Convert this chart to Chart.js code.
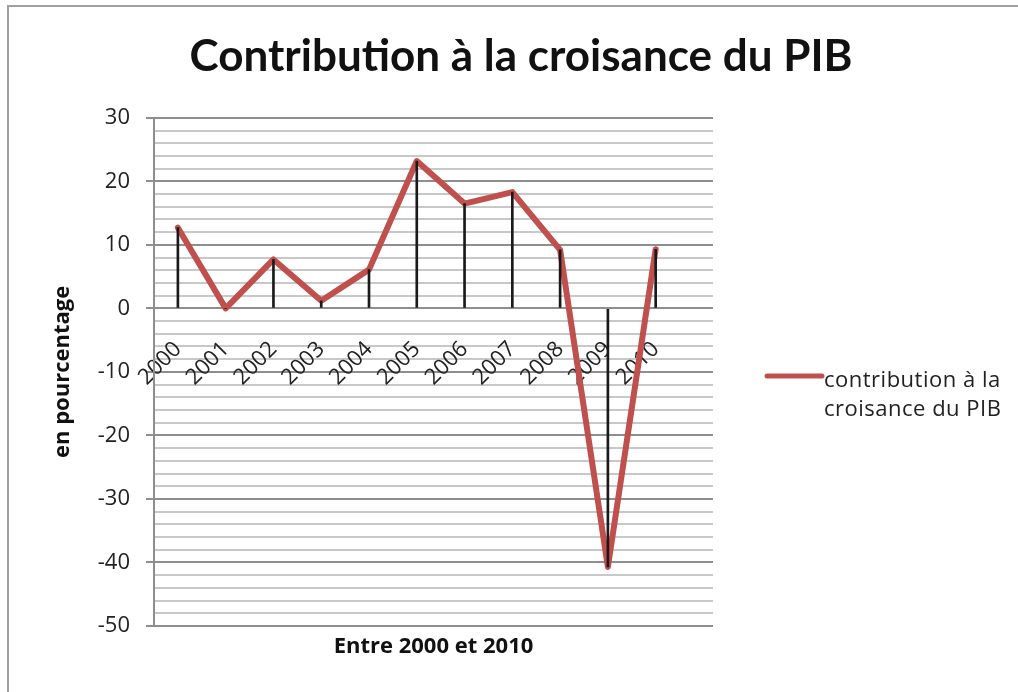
<!DOCTYPE html>
<html>
<head>
<meta charset="utf-8">
<title>Contribution à la croisance du PIB</title>
<script src="https://cdn.jsdelivr.net/npm/chart.js@4.4.1/dist/chart.umd.min.js"></script>
<style>
    html, body { margin: 0; padding: 0; background: #fff; }
    #wrap { width: 1018px; height: 692px; }
</style>
</head>
<body>
<div id="wrap"><canvas id="pibChart" width="1018" height="692"></canvas></div>
<script>
// Data
const years = ['2000', '2001', '2002', '2003', '2004', '2005', '2006', '2007', '2008', '2009', '2010'];
const contribution = [12.7, 0, 7.7, 1.2, 6.1, 23.2, 16.5, 18.3, 9.2, -40.7, 9.3];
const yMin = -50;
const yMax = 30;
const seriesLabel = 'contribution à la croisance du PIB';
const legendLines = ['contribution à la', 'croisance du PIB'];

const FONT = '"Open Sans", Lato, sans-serif';
const TITLE_FONT = 'Lato, "Open Sans", sans-serif';
const RED = '#C0504D';
const MAJOR = '#8e8e8e';
const MINOR = '#c8c8c8';

// Helper: the grey frame Excel draws round the chart
const framePlugin = {
    id: 'frame',
    beforeDraw(chart) {
        const ctx = chart.ctx;
        ctx.save();
        ctx.strokeStyle = '#a0a0a0';
        ctx.lineWidth = 2;
        ctx.beginPath();
        ctx.moveTo(8, chart.height);
        ctx.lineTo(8, 6);
        ctx.lineTo(chart.width, 6);
        ctx.stroke();
        ctx.restore();
    }
};

// Helper: legend on the right, text on two lines
const sideLegend = {
    id: 'sideLegend',
    afterDraw(chart) {
        const ctx = chart.ctx;
        const area = chart.chartArea;
        const ds = chart.data.datasets[0];
        const x0 = area.right + 54;
        const y0 = 376;
        ctx.save();
        ctx.strokeStyle = ds.borderColor;
        ctx.lineWidth = 5;
        ctx.lineCap = 'round';
        ctx.beginPath();
        ctx.moveTo(x0, y0);
        ctx.lineTo(x0 + 55, y0);
        ctx.stroke();
        ctx.fillStyle = '#222';
        ctx.font = '22px ' + FONT;
        ctx.letterSpacing = '0.5px';
        ctx.textBaseline = 'alphabetic';
        legendLines.forEach((line, i) => {
            ctx.fillText(line, x0 + 57, y0 + 11 + i * 29);
        });
        ctx.restore();
    }
};

// one tick per year, at index 0..10
function yearTicks(scale) {
    scale.ticks = years.map((y, i) => ({ value: i }));
}

new Chart(document.getElementById('pibChart'), {
    type: 'line',
    data: {
        datasets: [
            {
                label: seriesLabel,
                data: contribution.map((v, i) => ({ x: i, y: v })),
                borderColor: RED,
                backgroundColor: RED,
                borderWidth: 6,
                borderJoinStyle: 'round',
                borderCapStyle: 'round',
                pointRadius: 0,
                tension: 0,
                order: 1
            },
            {
                // drop lines from each point to zero
                type: 'bar',
                label: 'drop',
                data: contribution.map((v, i) => ({ x: i, y: [0, v] })),
                backgroundColor: '#1a1a1a',
                barThickness: 2,
                order: 0
            }
        ]
    },
    plugins: [framePlugin, sideLegend],
    options: {
        responsive: false,
        animation: false,
        layout: { padding: { left: 50, right: 26, top: 0, bottom: 32 } },
        plugins: {
            legend: { display: false },
            tooltip: { enabled: false },
            title: {
                display: true,
                text: 'Contribution à la croisance du PIB',
                color: '#111',
                font: { family: TITLE_FONT, size: 44, weight: 'bold' },
                padding: { top: 30, bottom: 35 }
            }
        },
        scales: {
            x: {
                type: 'linear',
                position: 'bottom',
                min: -0.5,
                max: 11.2,
                offset: false,
                grid: { display: false, offset: false },
                border: { display: false },
                ticks: { display: false },
                title: {
                    display: true,
                    text: 'Entre 2000 et 2010',
                    color: '#111',
                    font: { family: FONT, size: 22, weight: 'bold' },
                    padding: 0
                },
                afterFit(scale) { scale.height = 34; }
            },
            xYears: {
                type: 'linear',
                axis: 'x',
                position: { y: 0 },
                min: -0.5,
                max: 11.2,
                offset: false,
                grid: { display: false, offset: false },
                border: { display: false },
                afterBuildTicks: yearTicks,
                ticks: {
                    autoSkip: false,
                    maxRotation: 45,
                    minRotation: 45,
                    padding: 20,
                    color: '#222',
                    font: { family: FONT, size: 22 },
                    callback: v => years[v]
                }
            },
            y: {
                type: 'linear',
                position: 'left',
                min: yMin,
                max: yMax,
                border: { display: true, color: MAJOR, width: 2 },
                grid: {
                    color: c => (c.tick.value % 10 === 0 ? MAJOR : MINOR),
                    tickColor: c => (c.tick.value % 10 === 0 ? MAJOR : 'rgba(0,0,0,0)'),
                    lineWidth: 2,
                    tickLength: 8
                },
                ticks: {
                    stepSize: 2,
                    autoSkip: false,
                    padding: 16,
                    color: '#222',
                    font: { family: FONT, size: 22 },
                    callback: v => (v % 10 === 0 ? v : '')
                },
                title: {
                    display: true,
                    text: 'en pourcentage',
                    color: '#111',
                    font: { family: FONT, size: 22, weight: 'bold' },
                    padding: 0
                },
                afterFit(scale) { scale.width = 104; }
            },
            yRight: {
                // empty axis that keeps room for the legend on the right
                type: 'linear',
                position: 'right',
                grid: { display: false },
                border: { display: false },
                ticks: { display: false },
                afterFit(scale) { scale.width = 279; }
            }
        }
    }
});
</script>
</body>
</html>
